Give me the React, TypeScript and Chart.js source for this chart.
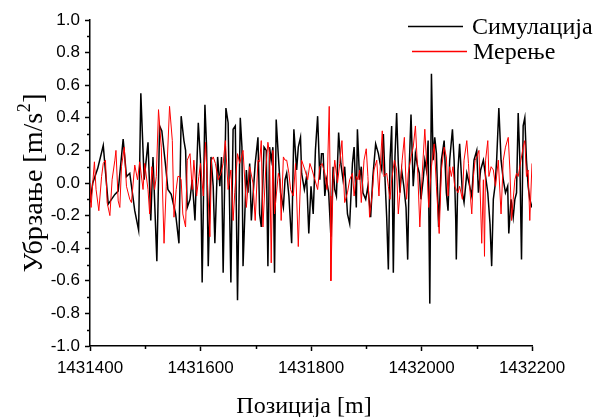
import React, { useEffect, useRef } from "react";
import { Chart, registerables } from "chart.js";

Chart.register(...registerables);

const seriesNames = ["Симулација", "Мерење"];
const xAxisTitle = "Позиција [m]";
const yAxisTitleMain = "Убрзање [m/s";
const yAxisTitleSup = "2";
const yAxisTitleEnd = "]";

const xMin = 1431400;
const xMax = 1432200;
const xStep = 200;
const yMin = -1.0;
const yMax = 1.0;
const yStep = 0.2;

const simPos = [
  1431400, 1431405, 1431414, 1431424, 1431433, 1431445, 1431451, 1431460, 1431466, 1431472,
  1431481, 1431488, 1431492, 1431498, 1431505, 1431510, 1431514, 1431521, 1431526, 1431530,
  1431537, 1431541, 1431547, 1431555, 1431561, 1431565, 1431570, 1431573, 1431576, 1431581,
  1431585, 1431590, 1431596, 1431600, 1431603, 1431608, 1431611, 1431614, 1431619, 1431623,
  1431626, 1431631, 1431635, 1431638, 1431641, 1431646, 1431650, 1431655, 1431659, 1431663,
  1431667, 1431672, 1431675, 1431677, 1431683, 1431686, 1431689, 1431692, 1431699, 1431704,
  1431707, 1431710, 1431715, 1431719, 1431722, 1431725, 1431728, 1431731, 1431734, 1431737,
  1431741, 1431745, 1431750, 1431753, 1431756, 1431760, 1431765, 1431769, 1431774, 1431777,
  1431781, 1431783, 1431788, 1431792, 1431796, 1431800, 1431804, 1431808, 1431812, 1431816,
  1431819, 1431822, 1431825, 1431828, 1431832, 1431836, 1431840, 1431843, 1431846, 1431850,
  1431854, 1431858, 1431861, 1431866, 1431870, 1431875, 1431878, 1431882, 1431884, 1431888,
  1431891, 1431894, 1431899, 1431903, 1431908, 1431912, 1431917, 1431922, 1431925, 1431928,
  1431931, 1431934, 1431937, 1431940, 1431943, 1431946, 1431949, 1431952, 1431955, 1431958,
  1431961, 1431964, 1431968, 1431972, 1431975, 1431978, 1431981, 1431985, 1431989, 1431993,
  1431996, 1431999, 1432003, 1432006, 1432009, 1432012, 1432015, 1432018, 1432021, 1432024,
  1432027, 1432031, 1432036, 1432041, 1432045, 1432048, 1432051, 1432056, 1432059, 1432062,
  1432063, 1432066, 1432069, 1432074, 1432077, 1432082, 1432086, 1432091, 1432095, 1432100,
  1432103, 1432107, 1432112, 1432116, 1432120, 1432124, 1432127, 1432130, 1432133, 1432136,
  1432140, 1432144, 1432148, 1432152, 1432156, 1432158, 1432162, 1432166, 1432169, 1432172,
  1432175, 1432178, 1432181, 1432184, 1432187, 1432190, 1432193, 1432196, 1432200,
];
const simVal = [
  -0.12, 0.0, 0.09, 0.23, -0.13, -0.07, -0.05, 0.27, 0.04, 0.06,
  -0.17, -0.29, 0.55, 0.02, 0.25, -0.23, 0.16, -0.48, 0.35, 0.32,
  0.1, -0.04, -0.07, -0.19, -0.37, 0.41, 0.26, 0.2, -0.15, -0.1,
  0.02, -0.23, 0.37, 0.14, -0.61, 0.48, 0.22, -0.51, 0.16, -0.02,
  -0.37, 0.16, -0.02, 0.16, -0.55, 0.46, 0.37, -0.61, 0.33, 0.35,
  -0.72, 0.4, 0.22, -0.51, 0.08, -0.06, 0.12, -0.23, 0.12, 0.28,
  -0.19, -0.27, 0.22, 0.2, -0.51, 0.22, 0.14, 0.22, -0.55, 0.39,
  0.16, -0.06, -0.15, 0.02, 0.06, -0.08, -0.37, 0.33, 0.08, 0.22,
  0.28, 0.06, -0.04, 0.04, -0.31, -0.02, -0.19, 0.2, 0.41, 0.02,
  0.18, 0.18, -0.08, 0.02, -0.06, -0.33, 0.1, -0.04, -0.08, 0.31,
  0.12, 0.02, 0.1, -0.19, -0.25, 0.12, 0.22, -0.15, 0.33, 0.02,
  0.1, -0.06, -0.1, -0.02, -0.21, 0.04, 0.24, 0.18, 0.12, 0.08,
  0.3, 0.02, -0.21, -0.53, 0.14, 0.35, -0.55, 0.16, 0.43, 0.12,
  -0.06, 0.08, -0.02, -0.15, -0.47, 0.12, 0.42, -0.02, 0.18, 0.1,
  0.06, -0.1, 0.02, 0.14, 0.08, 0.26, -0.74, 0.67, 0.14, 0.28,
  0.18, -0.27, 0.14, 0.26, -0.06, -0.17, 0.14, 0.33, 0.14, -0.23,
  -0.47, 0.08, 0.24, -0.06, -0.12, 0.06, 0.0, -0.08, 0.14, 0.2,
  -0.06, 0.08, 0.14, 0.04, -0.06, -0.25, -0.51, -0.1, -0.02, 0.14,
  0.46, 0.14, 0.02, -0.06, -0.02, -0.31, -0.1, -0.21, -0.1, -0.06,
  0.43, 0.14, -0.47, 0.35, 0.4, 0.14, -0.02, -0.1, -0.15,
];

const measPos = [
  1431400, 1431402, 1431405, 1431408, 1431411, 1431416, 1431421, 1431424, 1431428, 1431431,
  1431436, 1431440, 1431445, 1431447, 1431451, 1431454, 1431457, 1431462, 1431466, 1431472,
  1431475, 1431481, 1431486, 1431490, 1431496, 1431499, 1431505, 1431508, 1431512, 1431517,
  1431520, 1431524, 1431529, 1431534, 1431538, 1431544, 1431549, 1431552, 1431556, 1431559,
  1431562, 1431565, 1431568, 1431573, 1431576, 1431581, 1431585, 1431588, 1431593, 1431597,
  1431600, 1431605, 1431609, 1431613, 1431617, 1431620, 1431623, 1431627, 1431632, 1431637,
  1431641, 1431645, 1431650, 1431655, 1431659, 1431662, 1431667, 1431671, 1431677, 1431683,
  1431689, 1431695, 1431699, 1431704, 1431707, 1431710, 1431713, 1431718, 1431722, 1431725,
  1431728, 1431731, 1431734, 1431737, 1431741, 1431744, 1431746, 1431750, 1431753, 1431756,
  1431760, 1431763, 1431768, 1431772, 1431777, 1431780, 1431783, 1431789, 1431794, 1431798,
  1431802, 1431807, 1431812, 1431816, 1431820, 1431825, 1431829, 1431833, 1431835, 1431836,
  1431840, 1431843, 1431848, 1431852, 1431856, 1431861, 1431866, 1431870, 1431875, 1431878,
  1431882, 1431885, 1431888, 1431891, 1431896, 1431900, 1431903, 1431906, 1431911, 1431914,
  1431919, 1431923, 1431926, 1431929, 1431932, 1431937, 1431940, 1431943, 1431946, 1431951,
  1431955, 1431958, 1431961, 1431965, 1431969, 1431973, 1431976, 1431981, 1431985, 1431989,
  1431993, 1431997, 1432001, 1432006, 1432009, 1432013, 1432018, 1432023, 1432027, 1432032,
  1432036, 1432041, 1432045, 1432048, 1432051, 1432054, 1432057, 1432060, 1432063, 1432066,
  1432069, 1432074, 1432077, 1432082, 1432085, 1432088, 1432091, 1432094, 1432097, 1432100,
  1432104, 1432109, 1432112, 1432114, 1432116, 1432120, 1432122, 1432126, 1432130, 1432134,
  1432139, 1432144, 1432148, 1432152, 1432157, 1432160, 1432163, 1432166, 1432169, 1432172,
  1432175, 1432180, 1432184, 1432187, 1432190, 1432193, 1432196, 1432200,
];
const measVal = [
  0.0, -0.15, 0.0, 0.13, -0.04, -0.17, 0.04, 0.12, 0.14, -0.12,
  -0.2, 0.02, 0.14, 0.2, -0.11, -0.15, 0.1, 0.22, -0.02, -0.1,
  -0.12, 0.11, 0.02, 0.13, -0.04, 0.12, -0.04, -0.19, 0.1, -0.04,
  0.04, 0.45, 0.22, -0.37, -0.02, 0.47, 0.26, -0.21, -0.04, 0.04,
  0.04, 0.02, -0.19, -0.27, 0.14, 0.18, -0.04, 0.14, -0.08, 0.04,
  0.12, -0.08, 0.25, -0.02, -0.33, 0.14, 0.16, 0.12, 0.02, 0.06,
  0.12, 0.26, -0.04, 0.08, -0.23, -0.06, 0.18, 0.12, 0.2, -0.15,
  0.1, 0.0, -0.23, 0.14, 0.13, 0.26, -0.27, 0.08, 0.25, 0.18,
  -0.49, 0.2, -0.19, -0.08, 0.06, 0.02, -0.23, 0.16, 0.14, 0.14,
  0.06, -0.04, -0.08, 0.12, -0.39, -0.08, 0.14, 0.08, 0.02, 0.12,
  0.08, 0.02, -0.04, 0.1, 0.12, 0.06, -0.04, 0.47, -0.08, -0.6,
  0.02, 0.14, 0.0, 0.12, 0.26, -0.12, -0.06, 0.02, 0.06, -0.08,
  0.04, 0.02, 0.08, -0.12, 0.14, 0.21, 0.04, -0.21, -0.06, 0.08,
  0.14, -0.08, 0.14, 0.32, 0.04, 0.06, -0.02, -0.1, 0.02, 0.14,
  0.08, -0.19, -0.06, 0.14, 0.28, -0.1, 0.06, 0.16, 0.22, 0.35,
  0.08, -0.27, 0.04, 0.33, 0.14, -0.15, 0.1, 0.24, -0.02, -0.31,
  0.08, 0.22, 0.16, -0.08, 0.1, 0.04, 0.1, -0.02, -0.04, -0.06,
  -0.02, -0.1, 0.14, 0.26, 0.12, -0.06, -0.19, 0.04, 0.14, 0.16,
  0.2, -0.37, 0.02, -0.45, 0.14, 0.26, 0.04, 0.1, 0.08, -0.02,
  0.14, -0.19, 0.14, 0.22, 0.28, 0.08, -0.23, -0.1, 0.02, 0.06,
  0.04, 0.14, 0.22, 0.26, 0.04, 0.08, -0.23, 0.12,
];

const seriesColors = ["#000000", "#ff0000"];

const SERIF = "'Liberation Serif', 'Times New Roman', serif";
const SANS = "'Liberation Sans', Arial, sans-serif";

const decorPlugin = {
  id: "decor",
  afterDraw(chart: any) {
    const ctx: CanvasRenderingContext2D = chart.ctx;
    const { left, bottom, top } = chart.chartArea;
    const xs = chart.scales.x;
    const ys = chart.scales.y;
    ctx.save();
    // minor ticks
    ctx.strokeStyle = "#000";
    ctx.lineWidth = 1.5;
    const xt = xs.ticks;
    for (let i = 0; i < xt.length - 1; i++) {
      const p = Math.round(xs.getPixelForValue((xt[i].value + xt[i + 1].value) / 2)) + 0.5;
      ctx.beginPath();
      ctx.moveTo(p, bottom);
      ctx.lineTo(p, bottom + 3);
      ctx.stroke();
    }
    const yt = ys.ticks;
    for (let i = 0; i < yt.length - 1; i++) {
      const p = Math.round(ys.getPixelForValue((yt[i].value + yt[i + 1].value) / 2)) + 0.5;
      ctx.beginPath();
      ctx.moveTo(left, p);
      ctx.lineTo(left - 3, p);
      ctx.stroke();
    }

    // x axis title
    ctx.fillStyle = "#000";
    ctx.font = `24px ${SERIF}`;
    ctx.textAlign = "center";
    ctx.textBaseline = "alphabetic";
    ctx.fillText(xAxisTitle, 304, 413);

    // y axis title (with superscript)
    ctx.textAlign = "left";
    const mainFont = `28px ${SERIF}`;
    const supFont = `18px ${SERIF}`;
    ctx.font = mainFont;
    const w1 = ctx.measureText(yAxisTitleMain).width;
    const w3 = ctx.measureText(yAxisTitleEnd).width;
    ctx.font = supFont;
    const w2 = ctx.measureText(yAxisTitleSup).width;
    const total = w1 + w2 + w3 + 1;
    const cy = (top + bottom) / 2;
    ctx.translate(42, cy);
    ctx.rotate(-Math.PI / 2);
    let x0 = -total / 2;
    ctx.font = mainFont;
    ctx.fillText(yAxisTitleMain, x0, 0);
    x0 += w1;
    ctx.font = supFont;
    ctx.fillText(yAxisTitleSup, x0 + 0.5, -12);
    x0 += w2 + 1;
    ctx.font = mainFont;
    ctx.fillText(yAxisTitleEnd, x0, 0);
    ctx.restore();

    // legend
    ctx.save();
    ctx.font = `24px ${SERIF}`;
    ctx.fillStyle = "#000";
    ctx.textBaseline = "alphabetic";
    ctx.textAlign = "left";
    const rows = [
      { y: 26, x1: 408, x2: 463, tx: 472, ty: 34 },
      { y: 51, x1: 412, x2: 467, tx: 473, ty: 59 },
    ];
    rows.forEach((r, i) => {
      ctx.strokeStyle = seriesColors[i];
      ctx.lineWidth = 1.3;
      ctx.beginPath();
      ctx.moveTo(r.x1, r.y + 0.5);
      ctx.lineTo(r.x2, r.y + 0.5);
      ctx.stroke();
      ctx.fillText(seriesNames[i], r.tx, r.ty);
    });
    ctx.restore();
  },
};

export default function App() {
  const ref = useRef<HTMLCanvasElement | null>(null);

  useEffect(() => {
    if (!ref.current) return;
    const simData = simPos.map((x, i) => ({ x, y: simVal[i] }));
    const measData = measPos.map((x, i) => ({ x, y: measVal[i] }));
    const chart = new Chart(ref.current, {
      type: "line",
      data: {
        datasets: [
          {
            label: seriesNames[0],
            data: simData,
            borderColor: seriesColors[0],
            borderWidth: 1.5,
            pointRadius: 0,
            tension: 0,
            fill: false,
            order: 1,
          },
          {
            label: seriesNames[1],
            data: measData,
            borderColor: seriesColors[1],
            borderWidth: 1,
            pointRadius: 0,
            tension: 0,
            fill: false,
            order: 0,
          },
        ],
      },
      options: {
        animation: false,
        responsive: false,
        events: [],
        layout: { padding: { top: 20, right: 71, left: 0, bottom: 0 } },
        plugins: {
          legend: { display: false },
          tooltip: { enabled: false },
        },
        scales: {
          x: {
            type: "linear",
            min: xMin,
            max: xMax,
            afterFit: (s: any) => {
              s.height = 71;
            },
            border: { display: true, color: "#000", width: 1.5 },
            grid: {
              drawOnChartArea: false,
              drawTicks: true,
              tickLength: 5,
              tickColor: "#000",
              tickWidth: 1.5,
            },
            ticks: {
              stepSize: xStep,
              autoSkip: false,
              maxRotation: 0,
              padding: 7,
              color: "#000",
              font: { family: SANS, size: 17 },
              callback: (v: any) => String(v),
            },
            title: { display: false, text: xAxisTitle },
          },
          y: {
            type: "linear",
            min: yMin,
            max: yMax,
            afterFit: (s: any) => {
              s.width = 90;
            },
            border: { display: true, color: "#000", width: 1.5 },
            grid: {
              drawOnChartArea: false,
              drawTicks: true,
              tickLength: 5,
              tickColor: "#000",
              tickWidth: 1.5,
            },
            ticks: {
              stepSize: yStep,
              padding: 5,
              color: "#000",
              font: { family: SANS, size: 17 },
              callback: (v: any) => Number(v).toFixed(1),
            },
          },
        },
      },
      plugins: [decorPlugin],
    });
    return () => chart.destroy();
  }, []);

  return (
    <div style={{ position: "fixed", left: 0, top: 0, width: 603, height: 417, background: "#fff" }}>
      <canvas ref={ref} width={603} height={417} style={{ display: "block" }} />
    </div>
  );
}
